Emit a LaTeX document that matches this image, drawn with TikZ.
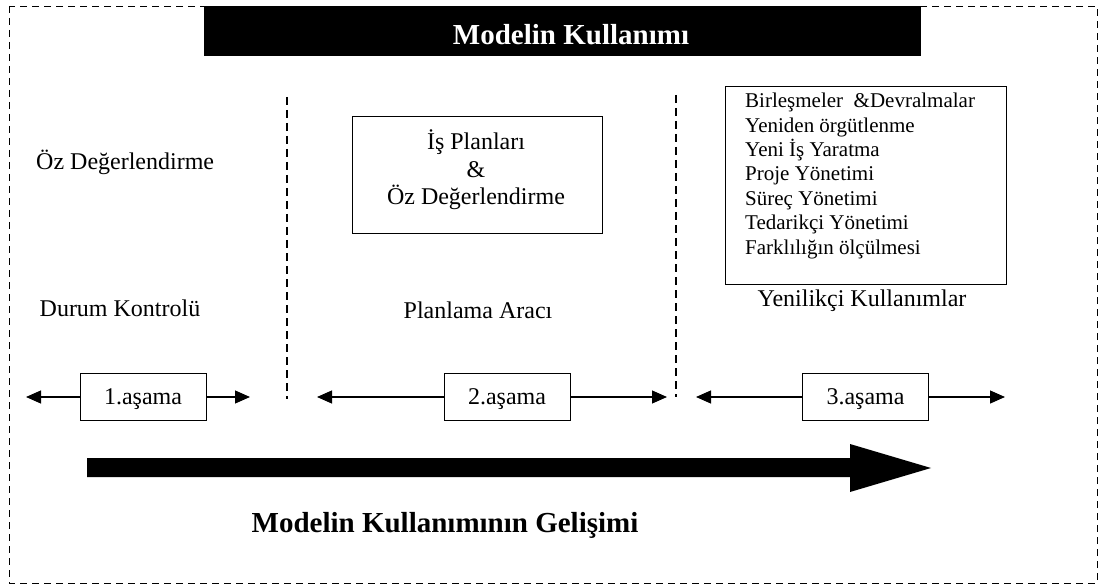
\documentclass[tikz,border=0pt]{standalone}
\usepackage{fontspec}
\setmainfont{Liberation Serif}
\usetikzlibrary{arrows.meta}
\begin{document}
\begin{tikzpicture}[x=1pt,y=-1pt,
  txt/.style={inner sep=0pt,font=\fontsize{24}{27.5}\selectfont},
  listtxt/.style={inner sep=0pt,font=\fontsize{21}{24.4}\selectfont},
  stagebox/.style={draw,line width=1pt,minimum width=126pt,minimum height=47pt,inner sep=0pt,
    text height=17pt,text depth=3pt,font=\fontsize{24}{27}\selectfont},
  stagearrow/.style={line width=1.2pt,-{Triangle[length=15pt,width=13pt]}},
  divider/.style={line width=1.4pt,dash pattern=on 8pt off 5pt},
  framebox/.style={draw,line width=1.4pt},
  headtxt/.style={inner sep=0pt,font=\fontsize{29}{33}\bfseries\selectfont}]
\useasboundingbox (0,0) rectangle (1099,585);

% outer dashed frame
\draw[line width=0.9pt,dash pattern=on 7pt off 5pt] (9,6) rectangle (1097,583);

% title bar
\node[fill=black,minimum width=717pt,minimum height=50pt,inner sep=0pt,anchor=north west] (title) at (204,6) {};
\node[headtxt,text=white] (titletext) at (571,35) {Modelin Kullanımı};

% phase dividers
\coordinate (d1top) at (287,97);  \coordinate (d1bot) at (287,399);
\coordinate (d2top) at (676,95);  \coordinate (d2bot) at (676,397);
\draw[divider] (d1top) -- (d1bot);
\draw[divider] (d2top) -- (d2bot);

% phase 1
\node[txt,anchor=west] (oz) at (36,162) {Öz Değerlendirme};
\node[txt] (durum) at (120,308) {Durum Kontrolü};

% phase 2
\node[framebox,minimum width=250pt,minimum height=117pt,inner sep=0pt,anchor=north west] (plan) at (352,116) {};
\node[txt,align=center] (plantext) at (476,170)
  {İş Planları\\\&\\Öz Değerlendirme};
\node[txt] (arac) at (478,310) {Planlama Aracı};

% phase 3
\node[framebox,minimum width=281pt,minimum height=198pt,inner sep=0pt,anchor=north west] (uses) at (725,86) {};
\node[listtxt,align=left,anchor=north west] (uselist) at (745,93)
  {Birleşmeler \ \&Devralmalar\\Yeniden örgütlenme\\Yeni İş Yaratma\\Proje Yönetimi\\Süreç Yönetimi\\Tedarikçi Yönetimi\\Farklılığın ölçülmesi};
\node[txt] (yeni) at (862,301) {Yenilikçi Kullanımlar};

% stage boxes with arrows
\node[stagebox] (s1) at (143,397) {1.aşama};
\node[stagebox] (s2) at (507,397) {2.aşama};
\node[stagebox] (s3) at (865.5,397) {3.aşama};
\coordinate (s1l) at (26,397);  \coordinate (s1r) at (250,397);
\coordinate (s2l) at (317,397); \coordinate (s2r) at (667,397);
\coordinate (s3l) at (696,397); \coordinate (s3r) at (1005,397);
\draw[stagearrow] (s1.west) -- (s1l);
\draw[stagearrow] (s1.east) -- (s1r);
\draw[stagearrow] (s2.west) -- (s2l);
\draw[stagearrow] (s2.east) -- (s2r);
\draw[stagearrow] (s3.west) -- (s3l);
\draw[stagearrow] (s3.east) -- (s3r);

% development arrow
\fill (87,458) -- (850,458) -- (850,444) -- (931,468) -- (850,492) -- (850,477) -- (87,477) -- cycle;
\node[headtxt] (dev) at (445,525) {Modelin Kullanımının Gelişimi};
\end{tikzpicture}
\end{document}
